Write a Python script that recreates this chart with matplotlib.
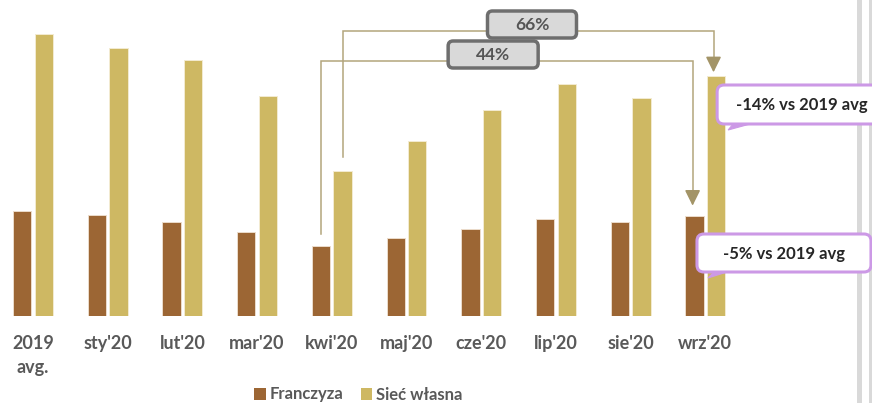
import matplotlib
matplotlib.use("Agg")
import matplotlib.pyplot as plt
import matplotlib.transforms as mtransforms
from matplotlib.patches import FancyBboxPatch, Polygon, Rectangle, Patch
import numpy as np

plt.rcParams['font.family'] = ['Lato', 'DejaVu Sans']

# ---- data ----
categories = ["2019\navg.", "sty'20", "lut'20", "mar'20", "kwi'20",
              "maj'20", "cze'20", "lip'20", "sie'20", "wrz'20"]
franczyza = [105.3, 101.3, 93.7, 83.7, 69.7, 77.7, 87.3, 97.3, 93.7, 99.7]
siec_wlasna = [281.7, 267.7, 255.7, 220.0, 144.7, 174.7, 206.3, 232.0, 218.0, 240.0]
series_names = ["Franczyza", "Sieć własna"]
growth_labels = ["66%", "44%"]
callout_labels = ["-14% vs 2019 avg", "-5% vs 2019 avg"]

# ---- style ----
C_FR = '#9C6634'
C_OWN = '#CEB863'
C_TXT = '#595959'
C_LINE = '#B3A57C'
C_ARROW = '#A39467'
C_PURPLE = '#CC99E6'

W, H, DPI = 872, 403, 100
fig = plt.figure(figsize=(W / DPI, H / DPI), dpi=DPI)
X0, S = 33.0, 74.7          # pixel position of first group, pixels per group
BASE = 316.0                 # baseline pixel from top
ax = fig.add_axes([0, (H - BASE) / H, 1, BASE / H])
ax.set_xlim(-X0 / S, (W - X0) / S)
ax.set_ylim(0, BASE)
for s in ax.spines.values():
    s.set_visible(False)
ax.set_yticks([])

x = np.arange(len(categories))
bw, off = 0.245, 0.145
ax.bar(x - off, franczyza, bw, color=C_FR, edgecolor='#EBDCCB', linewidth=0.7, zorder=2)
ax.bar(x + off, siec_wlasna, bw, color=C_OWN, edgecolor='#F3EBD2', linewidth=0.7, zorder=2)

ax.set_xticks(x)
ax.set_xticklabels(categories, fontsize=13, fontweight='bold', color=C_TXT)
ax.tick_params(axis='x', length=0, pad=14)
for t in ax.get_xticklabels():
    t.set_linespacing(1.5)

# right-side page border lines
for (x1, x2) in [(857, 862), (869, 872)]:
    ax.add_patch(Rectangle((x1 / W, 0), (x2 - x1) / W, 1, transform=fig.transFigure,
                           facecolor='#D9D9D9', edgecolor='none', clip_on=False, zorder=0.5))


def px_trans(xd, yd):
    """transform: offsets in pixels relative to a data anchor"""
    return (mtransforms.Affine2D().scale(1.0 / DPI) + fig.dpi_scale_trans
            + mtransforms.ScaledTranslation(xd, yd, ax.transData))


# ---- growth connectors ----
def connector(x_start, y_start, x_end, y_end, y_level, label, box_x, box_w):
    ax.plot([x_start, x_start, x_end, x_end], [y_start, y_level, y_level, y_end + 14],
            color=C_LINE, lw=1.1, zorder=3, solid_joinstyle='miter')
    ax.annotate('', xy=(x_end, y_end), xytext=(x_end, y_end + 14),
                arrowprops=dict(arrowstyle='-|>,head_length=0.95,head_width=0.47',
                                color=C_ARROW, lw=1.1, shrinkA=0, shrinkB=0), zorder=3)
    tr = px_trans(box_x, y_level)
    ax.add_patch(FancyBboxPatch((-box_w / 2, -13.5 + 6.5), box_w, 27,
                                boxstyle='round,pad=0,rounding_size=5',
                                facecolor='#D9D9D9', edgecolor='#6E6E6E', linewidth=2.5,
                                transform=tr, zorder=4, clip_on=False))
    ax.text(0, 6.5, label, transform=tr, ha='center', va='center', fontsize=12.5,
            fontweight='bold', color='#555555', zorder=5)


k, w = 4, 9
connector(k + off, siec_wlasna[k] + 14.6, w + 0.11, siec_wlasna[w] + 3.7, 285,
          growth_labels[0], 6.68, 89)
connector(k - off, franczyza[k] + 12, w - 0.17, franczyza[w] + 10.6, 255,
          growth_labels[1], 6.16, 90)


# ---- callouts ----
def callout(xd, yd, left, right, top, bottom, tail, text_xy, label, fs):
    tr = px_trans(xd, yd)
    ax.add_patch(FancyBboxPatch((left, bottom), right - left, top - bottom,
                                boxstyle='round,pad=0,rounding_size=7',
                                facecolor='white', edgecolor=C_PURPLE, linewidth=2.2,
                                transform=tr, zorder=6, clip_on=False))
    ax.add_patch(Polygon(tail, closed=True, facecolor=C_PURPLE, edgecolor=C_PURPLE,
                         linewidth=0.8, transform=tr, zorder=6, clip_on=False))
    ax.text(text_xy[0], text_xy[1], label, transform=tr, ha='center', va='center',
            fontsize=fs, fontweight='bold', color='#262626', zorder=7)


callout(w + off, siec_wlasna[w], 1, 190, -9, -48,
        [(12, -54), (17, -48), (34, -48)], (86, -29), callout_labels[0], 12)
callout(w - off, franczyza[w], 2.5, 176.5, -17.7, -55.7,
        [(13.5, -61.7), (19.5, -55.7), (32.5, -55.7)], (89.5, -37.7), callout_labels[1], 12)

# ---- legend ----
handles = [Patch(facecolor=C_FR, edgecolor='none'), Patch(facecolor=C_OWN, edgecolor='none')]
leg = fig.legend(handles, series_names, loc='center', bbox_to_anchor=(358.5 / W, 8.5 / H),
                 ncol=2, frameon=False, fontsize=12, handlelength=0.7, handleheight=0.7,
                 handletextpad=0.25, columnspacing=1.0, borderpad=0)
for t in leg.get_texts():
    t.set_color(C_TXT)
    t.set_fontweight('bold')

fig.savefig('out.png', dpi=DPI)
